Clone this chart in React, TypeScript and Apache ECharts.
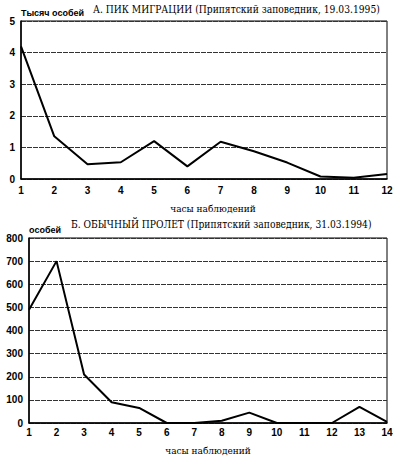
import React, { useEffect, useRef } from "react";
import * as echarts from "echarts";

const hoursA = ["1", "2", "3", "4", "5", "6", "7", "8", "9", "10", "11", "12"];
const valuesA = [4.2, 1.35, 0.47, 0.53, 1.2, 0.4, 1.18, 0.88, 0.52, 0.08, 0.04, 0.16];
const hoursB = ["1", "2", "3", "4", "5", "6", "7", "8", "9", "10", "11", "12", "13", "14"];
const valuesB = [490, 700, 210, 90, 65, 0, 0, 10, 45, 0, 0, 0, 70, 5];

const titleA = "А. ПИК МИГРАЦИИ (Припятский заповедник, 19.03.1995)";
const titleB = "Б. ОБЫЧНЫЙ ПРОЛЕТ (Припятский заповедник, 31.03.1994)";
const yNameA = "Тысяч особей";
const yNameB = "особей";
const xName = "часы наблюдений";

const SANS = "Liberation Sans";
const SERIF = "DejaVu Serif Condensed";

export default function App() {
  const ref = useRef<HTMLDivElement>(null);
  useEffect(() => {
    if (!ref.current) return;
    const chart = echarts.init(ref.current, undefined, { renderer: "svg" });
    const axisLabel = { color: "#000", fontFamily: SANS, fontWeight: "bold" as const, fontSize: 10 };
    const splitLine = { show: true, lineStyle: { color: "#333", width: 1, type: [5, 1] as any } };
    const axisLine = { show: true, lineStyle: { color: "#000", width: 1.5 } };
    chart.setOption({
      animation: false,
      backgroundColor: "#fff",
      title: [
        { text: titleA, left: 93, top: 4, padding: 0, textStyle: { fontFamily: SERIF, fontWeight: "normal", fontSize: 10.2, color: "#000" } },
        { text: titleB, left: 71, top: 219, padding: 0, textStyle: { fontFamily: SERIF, fontWeight: "normal", fontSize: 10.2, color: "#000" } },
      ],
      grid: [
        { left: 21, top: 21, width: 366, height: 158, show: true, borderColor: "#000", borderWidth: 1, backgroundColor: "transparent" },
        { left: 29, top: 238, width: 358, height: 188, show: true, borderColor: "#000", borderWidth: 1, backgroundColor: "transparent" },
      ],
      xAxis: [
        {
          gridIndex: 0, type: "category", data: hoursA, boundaryGap: false,
          axisLine, axisTick: { show: false },
          axisLabel: { ...axisLabel, margin: 6 },
          name: xName, nameLocation: "middle", nameGap: 24,
          nameTextStyle: { fontFamily: SERIF, fontSize: 10, color: "#000", padding: [0, 0, 0, 18] },
        },
        {
          gridIndex: 1, type: "category", data: hoursB, boundaryGap: false,
          axisLine, axisTick: { show: false },
          axisLabel: { ...axisLabel, margin: 4 },
          name: xName, nameLocation: "middle", nameGap: 22,
          nameTextStyle: { fontFamily: SERIF, fontSize: 10, color: "#000" },
        },
      ],
      yAxis: [
        {
          gridIndex: 0, type: "value", min: 0, max: 5, interval: 1,
          axisLine, axisTick: { show: false }, splitLine,
          axisLabel: { ...axisLabel, margin: 6 },
          name: yNameA, nameLocation: "end", nameGap: 8,
          nameTextStyle: { fontFamily: SANS, fontWeight: "bold", fontSize: 9, color: "#000", align: "left", verticalAlign: "middle" },
        },
        {
          gridIndex: 1, type: "value", min: 0, max: 800, interval: 100,
          axisLine, axisTick: { show: false }, splitLine,
          axisLabel: { ...axisLabel, margin: 6 },
          name: yNameB, nameLocation: "end", nameGap: 8,
          nameTextStyle: { fontFamily: SANS, fontWeight: "bold", fontSize: 9, color: "#000", align: "left", verticalAlign: "middle" },
        },
      ],
      series: [
        { type: "line", xAxisIndex: 0, yAxisIndex: 0, data: valuesA, symbol: "none", lineStyle: { color: "#000", width: 2 } },
        { type: "line", xAxisIndex: 1, yAxisIndex: 1, data: valuesB, symbol: "none", lineStyle: { color: "#000", width: 2 } },
      ],
    });
    return () => chart.dispose();
  }, []);
  return <div ref={ref} style={{ position: "fixed", left: 0, top: 0, width: 397, height: 456 }} />;
}
